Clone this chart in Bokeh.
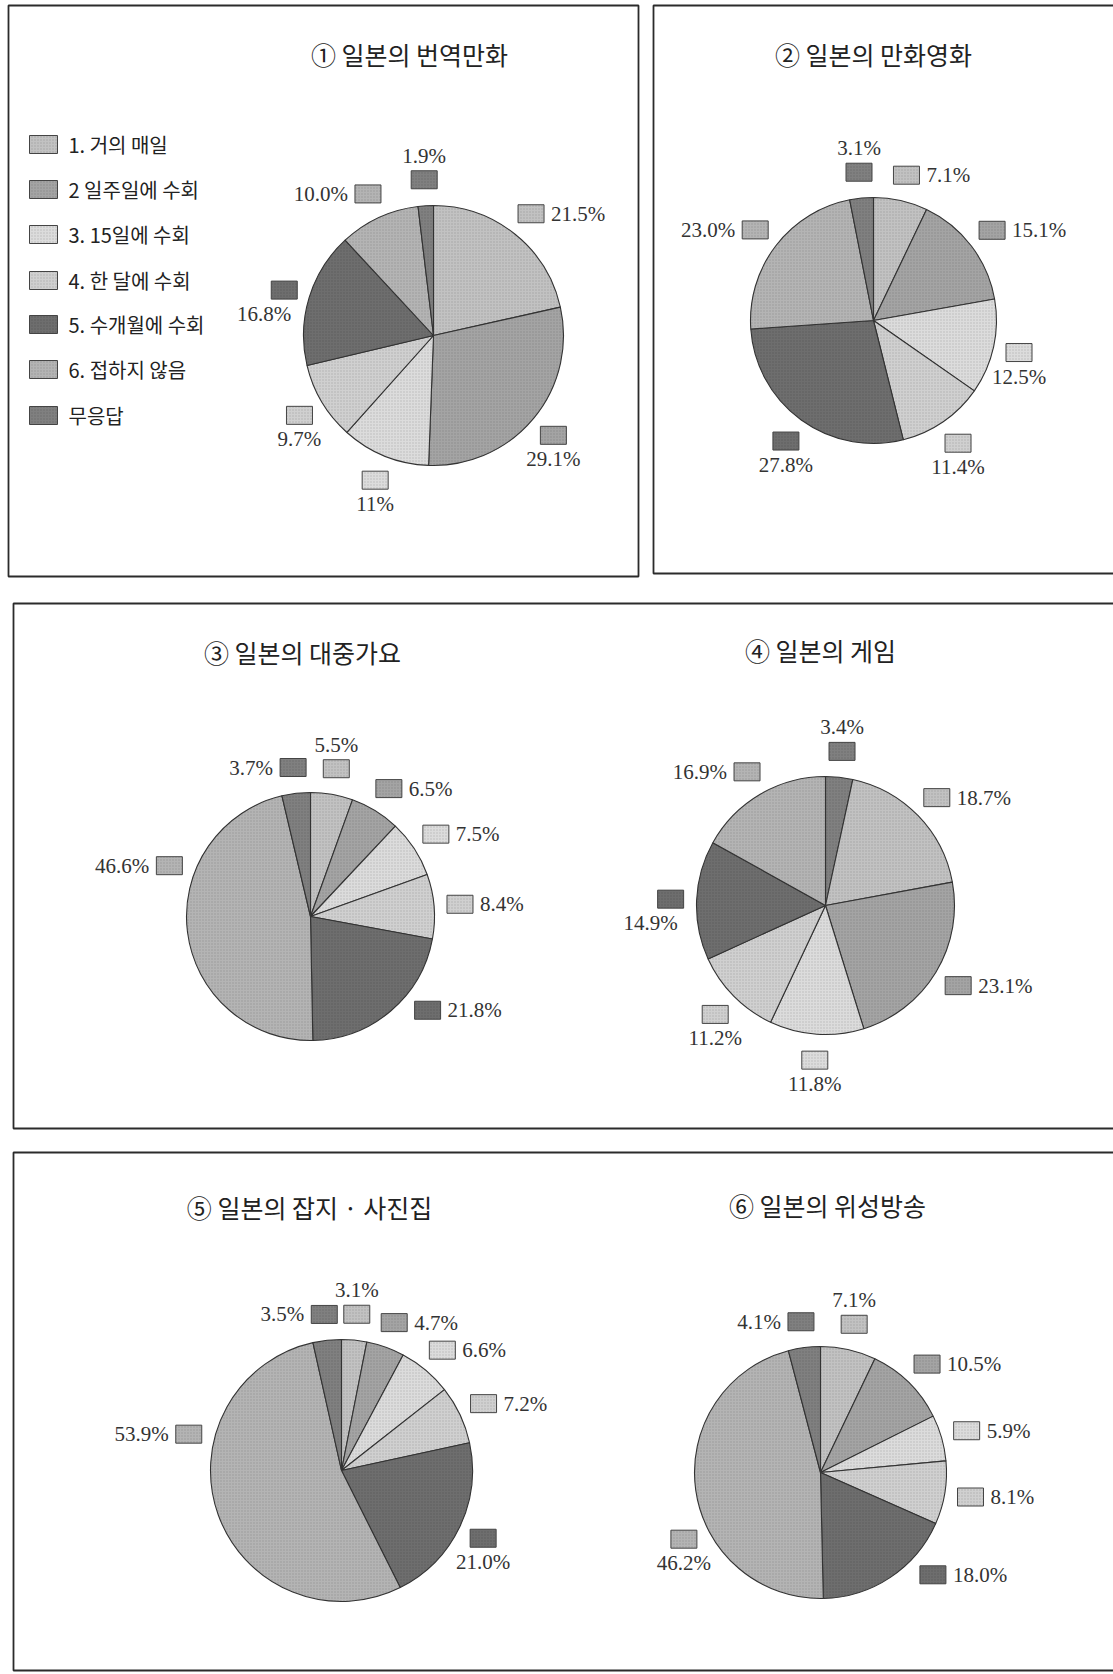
import numpy as np
from bokeh.plotting import figure
from bokeh.models import ColumnDataSource, Range1d
from bokeh.core.properties import value
from bokeh.embed import file_html
from bokeh.resources import INLINE

# ---------------- data ----------------
categories = ["1. 거의 매일", "2 일주일에 수회", "3. 15일에 수회", "4. 한 달에 수회",
              "5. 수개월에 수회", "6. 접하지 않음", "무응답"]
titles = ["① 일본의 번역만화", "② 일본의 만화영화", "③ 일본의 대중가요",
          "④ 일본의 게임", "⑤ 일본의 잡지 · 사진집", "⑥ 일본의 위성방송"]

values_1 = [21.5, 29.1, 11.0, 9.7, 16.8, 10.0, 1.9]
labels_1 = ["21.5%", "29.1%", "11%", "9.7%", "16.8%", "10.0%", "1.9%"]
values_2 = [7.1, 15.1, 12.5, 11.4, 27.8, 23.0, 3.1]
labels_2 = ["7.1%", "15.1%", "12.5%", "11.4%", "27.8%", "23.0%", "3.1%"]
values_3 = [5.5, 6.5, 7.5, 8.4, 21.8, 46.6, 3.7]
labels_3 = ["5.5%", "6.5%", "7.5%", "8.4%", "21.8%", "46.6%", "3.7%"]
values_4 = [18.7, 23.1, 11.8, 11.2, 14.9, 16.9, 3.4]
labels_4 = ["18.7%", "23.1%", "11.8%", "11.2%", "14.9%", "16.9%", "3.4%"]
values_5 = [3.1, 4.7, 6.6, 7.2, 21.0, 53.9, 3.5]
labels_5 = ["3.1%", "4.7%", "6.6%", "7.2%", "21.0%", "53.9%", "3.5%"]
values_6 = [7.1, 10.5, 5.9, 8.1, 18.0, 46.2, 4.1]
labels_6 = ["7.1%", "10.5%", "5.9%", "8.1%", "18.0%", "46.2%", "4.1%"]

all_values = [values_1, values_2, values_3, values_4, values_5, values_6]
all_labels = [labels_1, labels_2, labels_3, labels_4, labels_5, labels_6]

# ---------------- style / layout ----------------
W, H = 1113, 1674
colors = ["#c2c2c2", "#a4a4a4", "#dcdcdc", "#d0d0d0", "#6e6e6e", "#b4b4b4", "#808080"]
centers = [(433, 335), (873, 320), (310, 916), (825, 905), (341, 1470), (820, 1472)]
radii = [130, 123, 124, 129, 131, 126]
title_pos = [(409, 53), (873, 53), (302, 651), (820, 649), (309, 1206), (827, 1204)]
# clockwise drawing order of the categories, starting at 12 o'clock
orders = [
    [0, 1, 2, 3, 4, 5, 6],
    [0, 1, 2, 3, 4, 5, 6],
    [0, 1, 2, 3, 4, 5, 6],
    [6, 0, 1, 2, 3, 4, 5],
    [0, 1, 2, 3, 4, 5, 6],
    [0, 1, 2, 3, 4, 5, 6],
]
# where the text sits relative to its small box
placements = [
    ["r", "b", "b", "b", "bl", "l", "a"],
    ["r", "r", "b", "b", "b", "l", "a"],
    ["a", "r", "r", "r", "r", "l", "l"],
    ["r", "r", "b", "b", "bl", "l", "a"],
    ["a", "r", "r", "r", "b", "l", "l"],
    ["a", "r", "r", "r", "r", "b", "l"],
]
# angular nudge (degrees) of a label box away from its slice's mid-angle
nudges = [
    [0, 0, 0, 0, 0, 0, 0],
    [0, 0, 0, 0, 0, 0, 0],
    [0, 0, 0, 0, -11, 27, 0],
    [0, 0, 0, 0, 0, 0, 0],
    [0, 0, 0, 0, 0, 33, 0],
    [0, 0, 0, 0, -14, -18, 0],
]
panels = [(8, 5, 638, 576), (653, 5, 1125, 573), (13, 603, 1125, 1128), (13, 1152, 1125, 1670)]
BW, BH = 26, 18
LABEL_FONT = "Liberation Serif"
KR_FONT = "Noto Sans CJK KR"

p = figure(width=W, height=H, x_range=Range1d(0, W), y_range=Range1d(0, H),
           output_backend="svg", toolbar_location=None, min_border=0,
           x_axis_type=None, y_axis_type=None)
p.grid.visible = False
p.outline_line_color = None
p.background_fill_color = "white"
p.border_fill_color = "white"

# panel frames
p.quad(left=[b[0] for b in panels], right=[b[2] for b in panels],
       top=[H - b[1] for b in panels], bottom=[H - b[3] for b in panels],
       fill_alpha=0, line_color="#2b2b2b", line_width=1.8)

# ---------------- pies ----------------
wd = dict(x=[], y=[], r=[], s=[], e=[], c=[])
bx = dict(x=[], y=[], c=[])
keys = ["r", "l", "a", "b", "bl"]
txt = {k: dict(x=[], y=[], t=[]) for k in keys}

for k in range(6):
    vals = all_values[k]
    total = float(sum(vals))
    cx, cy = centers[k]
    r = radii[k]
    t = 0.0
    for i in orders[k]:
        t0 = t
        t1 = t + vals[i] / total * 2 * np.pi   # clockwise from 12 o'clock
        t = t1
        wd["x"].append(cx); wd["y"].append(H - cy); wd["r"].append(r)
        wd["s"].append(np.pi / 2 - t1); wd["e"].append(np.pi / 2 - t0)
        wd["c"].append(colors[i])
        mid = (t0 + t1) / 2 + np.radians(nudges[k][i])
        d = r + 26
        px = cx + d * np.sin(mid)
        py = cy - d * np.cos(mid)
        bx["x"].append(px); bx["y"].append(H - py); bx["c"].append(colors[i])
        pl = placements[k][i]
        if pl == "r":
            tx, ty = px + BW / 2 + 7, py
        elif pl == "l":
            tx, ty = px - BW / 2 - 7, py
        elif pl == "a":
            tx, ty = px, py - BH / 2 - 3
        elif pl == "bl":
            tx, ty = px + BW / 2 - 6, py + BH / 2 + 3
        else:
            tx, ty = px, py + BH / 2 + 3
        txt[pl]["x"].append(tx); txt[pl]["y"].append(H - ty); txt[pl]["t"].append(all_labels[k][i])

p.wedge(x="x", y="y", radius="r", start_angle="s", end_angle="e", direction="anticlock",
        fill_color="c", line_color="#333333", line_width=1.1,
        hatch_pattern="dot", hatch_scale=3, hatch_color="#000000", hatch_alpha=0.15,
        source=ColumnDataSource(wd))

p.rect(x="x", y="y", width=BW, height=BH, fill_color="c", line_color="#444444", line_width=1,
       hatch_pattern="dot", hatch_scale=3, hatch_color="#000000", hatch_alpha=0.15,
       source=ColumnDataSource(bx))

align = {"r": ("left", "middle"), "l": ("right", "middle"), "a": ("center", "bottom"),
         "b": ("center", "top"), "bl": ("right", "top")}
for key, (ta, tb) in align.items():
    p.text(x="x", y="y", text="t", source=ColumnDataSource(txt[key]),
           text_font=value(LABEL_FONT), text_font_size="21px", text_color="#333333",
           text_align=ta, text_baseline=tb)

# titles
p.text(x=[t[0] for t in title_pos], y=[H - t[1] for t in title_pos], text=titles,
       text_font=value(KR_FONT), text_font_size="25px", text_color="#222222",
       text_align="center", text_baseline="middle")

# legend (panel 1)
leg_y = [144, 189, 234, 280, 324, 369, 415]
p.rect(x=[43] * len(categories), y=[H - y for y in leg_y], width=28, height=18,
       fill_color=colors, line_color="#444444", line_width=1,
       hatch_pattern="dot", hatch_scale=3, hatch_color="#000000", hatch_alpha=0.15)
p.text(x=[68] * len(categories), y=[H - y for y in leg_y], text=categories,
       text_font=value(KR_FONT), text_font_size="20px", text_color="#222222",
       text_align="left", text_baseline="middle")

open("out.html", "w").write(file_html(p, INLINE))
